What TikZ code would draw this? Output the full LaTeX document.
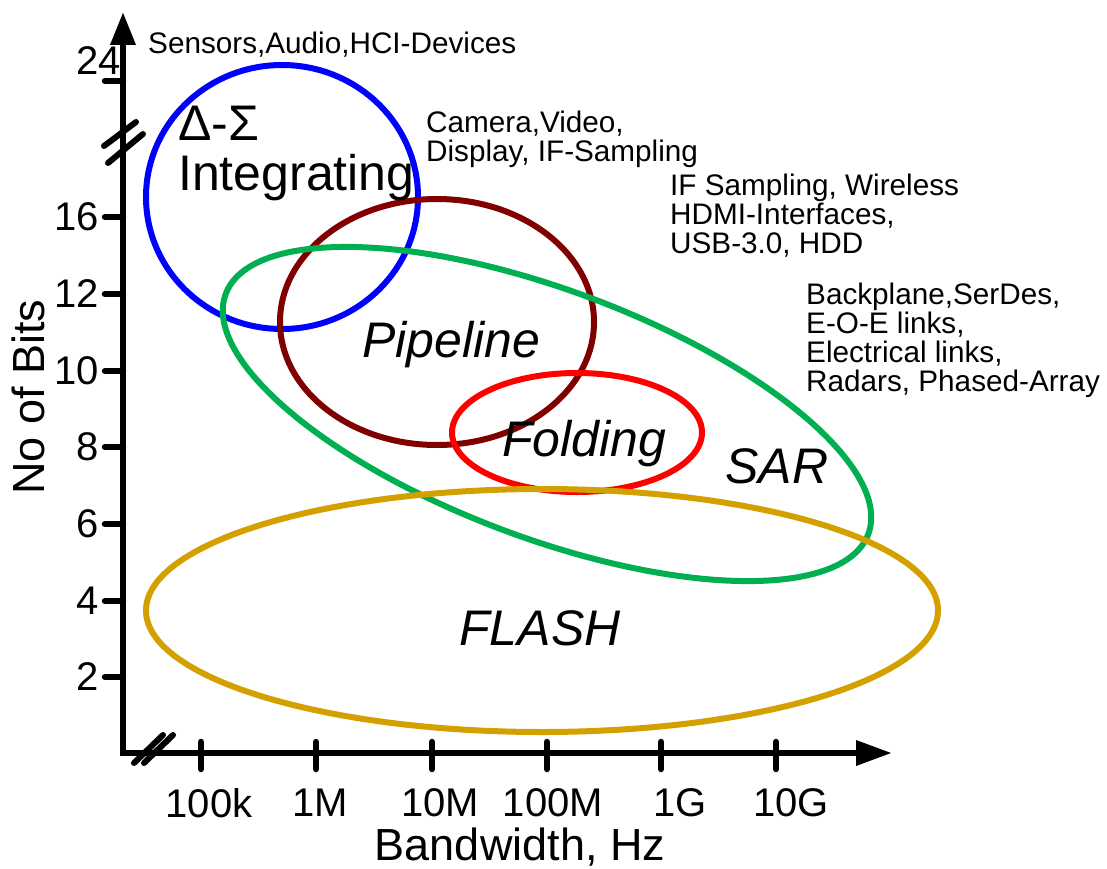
\documentclass[tikz,border=0pt]{standalone}
\usepackage{fontspec}
\setmainfont{Liberation Sans}
\usetikzlibrary{arrows.meta}
\definecolor{cblue}{RGB}{0,0,255}
\definecolor{cmaroon}{RGB}{128,0,0}
\definecolor{cgreen}{RGB}{0,176,80}
\definecolor{cred}{RGB}{255,0,0}
\definecolor{cgold}{RGB}{212,160,0}
\tikzset{
  axisline/.style={line width=6.5pt, line join=miter},
  tickline/.style={line width=6.5pt, line cap=round},
  breakmark/.style={line width=6pt, line cap=round},
  blob/.style={line width=6pt},
  ticklab/.style={inner sep=0pt, font=\fontsize{40}{40}\selectfont},
  axlab/.style={inner sep=0pt, font=\fontsize{45}{45}\selectfont},
  applab/.style={inner sep=0pt, align=left, font=\fontsize{29.7}{28.7}\selectfont},
  adclab/.style={inner sep=0pt, font=\fontsize{50}{50}\selectfont},
  adcit/.style={inner sep=0pt, font=\fontsize{50}{50}\selectfont\itshape},
}
\begin{document}
\begin{tikzpicture}[x=1pt, y=-1pt]
\useasboundingbox (0,0) rectangle (1107,869);
% ellipses
\draw[blob, cblue] (282,197) ellipse [x radius=136pt, y radius=132pt];
\draw[blob, cmaroon] (437,322) ellipse [x radius=157pt, y radius=123pt];
\draw[blob, cgreen, rotate around={-20.5:(547,414)}] (547,414) ellipse [x radius=343pt, y radius=124pt];
\draw[blob, cred] (577,432.5) ellipse [x radius=125pt, y radius=59.5pt];
\draw[blob, cgold] (542,610.5) ellipse [x radius=396pt, y radius=121.5pt];
% axes
\coordinate (O) at (123,753);
\coordinate (ytip) at (123,12);
\coordinate (xtip) at (892,753);
\draw[axisline, {Triangle[length=33pt,width=24pt]}-{Triangle[length=36pt,width=24pt]}] (ytip) -- (O) -- (xtip);
% axis breaks
\coordinate (yb1a) at (104,146); \coordinate (yb1b) at (136,122);
\coordinate (yb2a) at (108,163); \coordinate (yb2b) at (143,134);
\draw[breakmark] (yb1a) -- (yb1b);
\draw[breakmark] (yb2a) -- (yb2b);
\coordinate (xb1a) at (134,763); \coordinate (xb1b) at (163,735);
\coordinate (xb2a) at (144,763); \coordinate (xb2b) at (173,735);
\draw[breakmark] (xb1a) -- (xb1b);
\draw[breakmark] (xb2a) -- (xb2b);
% y ticks
\foreach \nm/\yy in {t24/81, t16/217, t12/294, t10/371, t8/447, t6/524, t4/601, t2/677} {
  \coordinate (\nm a) at (105,\yy);
  \coordinate (\nm b) at (123,\yy);
  \draw[tickline] (\nm a) -- (\nm b);
}
\node[ticklab, anchor=east] (l24) at (121,61) {24};
\foreach \nm/\yy/\lab in {l16/217/16, l12/294/12, l10/371/10, l8/447/8, l6/524/6, l4/601/4, l2/677/2} {
  \node[ticklab, anchor=east] (\nm) at (99,\yy) {\lab};
}
% x ticks
\foreach \nm/\xx in {x1/201, x2/316, x3/432, x4/547, x5/661, x6/776} {
  \coordinate (\nm a) at (\xx,742);
  \coordinate (\nm b) at (\xx,769);
  \draw[tickline] (\nm a) -- (\nm b);
}
\node[ticklab] (lx1) at (209,803) {100k};
\node[ticklab] (lx2) at (320,803) {1M};
\node[ticklab] (lx3) at (440,803) {10M};
\node[ticklab] (lx4) at (553,803) {100M};
\node[ticklab] (lx5) at (680,803) {1G};
\node[ticklab] (lx6) at (791,803) {10G};
% axis labels
\node[axlab, anchor=base] (xlab) at (520,860) {Bandwidth, Hz};
\node[axlab, rotate=90] (ylab) at (28,397) {No of Bits};
% application labels (anchored at the baseline of their last line)
\node[applab, anchor=base west] (app1) at (148,54) {Sensors,Audio,HCI-Devices};
\node[applab, anchor=base west] (app2) at (426,161) {Camera,Video,\\Display, IF-Sampling};
\node[applab, anchor=base west] (app3) at (670,253) {IF Sampling, Wireless\\HDMI-Interfaces,\\USB-3.0, HDD};
\node[applab, anchor=base west] (app4) at (806,391) {Backplane,SerDes,\\E-O-E links,\\Electrical links,\\Radars, Phased-Array};
% ADC labels
\node[adclab, anchor=base west, align=left] (ds) at (178,190) {Δ-Σ\\Integrating};
\node[adcit, anchor=base] (pipe) at (451,357) {Pipeline};
\node[adcit, anchor=base] (fold) at (584,456) {Folding};
\node[adcit, anchor=base] (sar) at (777,483) {SAR};
\node[adcit, anchor=base] (flash) at (540,645) {FLASH};
\end{tikzpicture}
\end{document}
